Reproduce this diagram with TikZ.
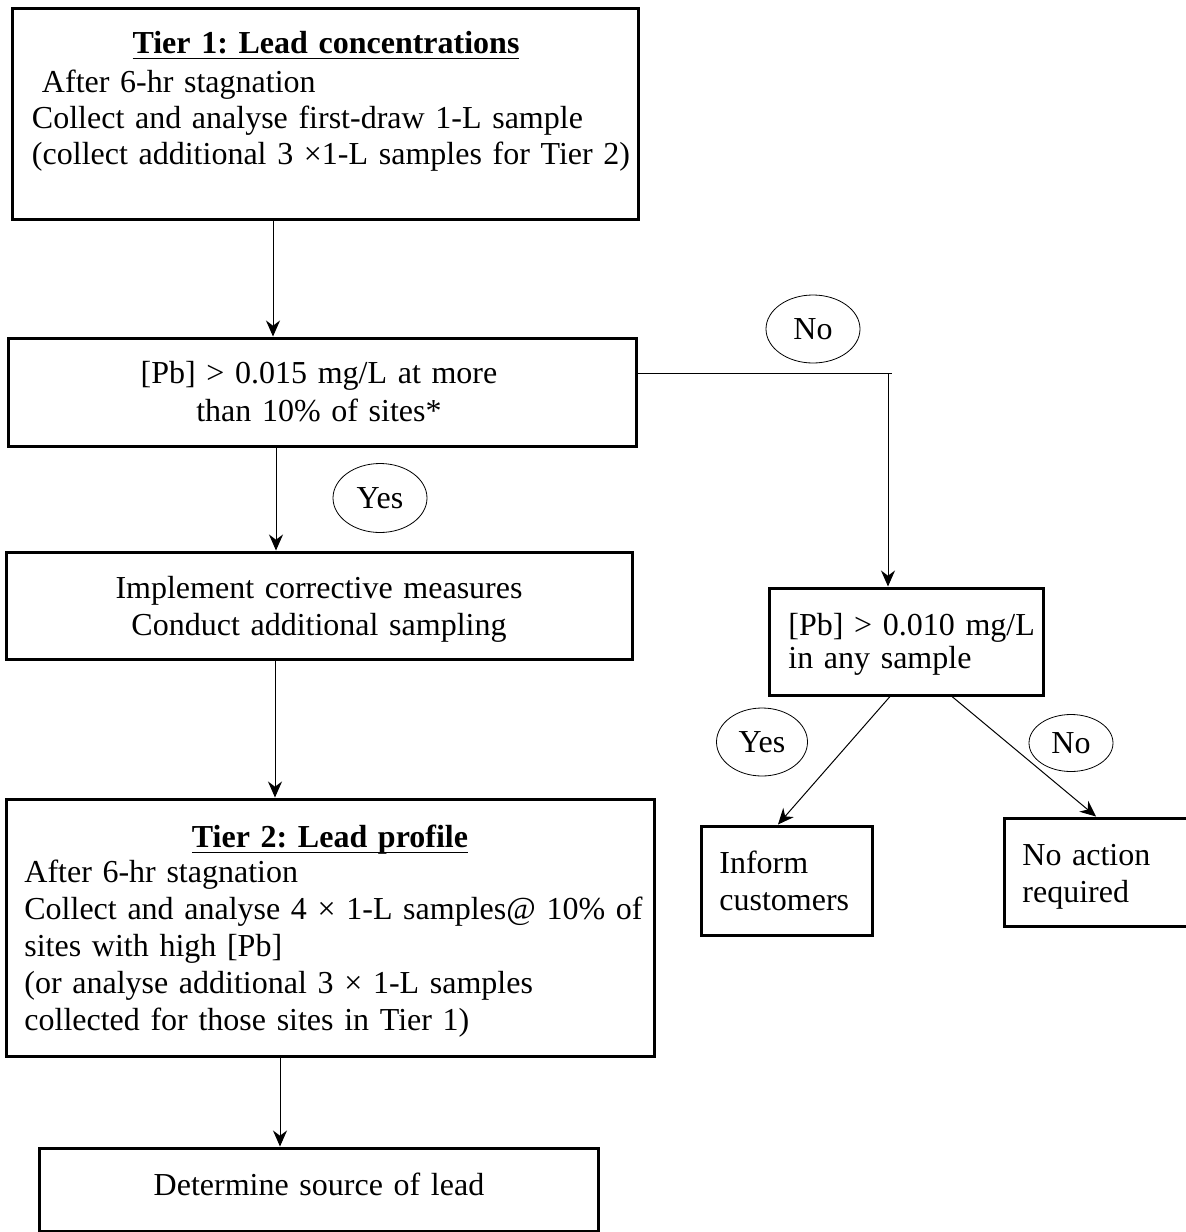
\documentclass[tikz,border=0pt]{standalone}
\usepackage{fontspec}
\setmainfont{Liberation Serif}
\usetikzlibrary{arrows.meta,shapes.geometric}
\newcommand{\ultitle}[1]{\setbox0\hbox{#1}\rlap{\rule[-3.2pt]{\wd0}{0.9pt}}\box0}
\frenchspacing
\begin{document}
\begin{tikzpicture}[>={Stealth[length=8pt,width=7pt]},x=0.5pt,y=-0.5pt,
			every node/.style={font=\fontsize{16}{18.5}\selectfont},
			box/.style={draw,line width=1.5pt,inner sep=0pt},
			answer/.style={ellipse,draw,line width=0.4pt,inner sep=0pt},
			txt/.style={inner sep=0pt,text width=#1},
			link/.style={line width=0.5pt}]
			\useasboundingbox (0,0) rectangle (1185,1232);
			\node[box,minimum width=313pt,minimum height=105.5pt] (tierone) at (325,113.5) {};
			\node[box,minimum width=314pt,minimum height=54pt] (leadcheck) at (322,392) {};
			\node[box,minimum width=313pt,minimum height=53.5pt] (corrective) at (319,605.5) {};
			\node[box,minimum width=324pt,minimum height=128.5pt] (tiertwo) at (330,927.5) {};
			\node[box,minimum width=279.5pt,minimum height=41.5pt] (source) at (318.5,1189.5) {};
			\node[box,minimum width=137pt,minimum height=53.5pt] (lowcheck) at (906,641.5) {};
			\node[box,minimum width=85.5pt,minimum height=54.5pt] (inform) at (786.5,880.5) {};
			\node[box,minimum width=92pt,minimum height=54pt] (noaction) at (1096,872) {};
			\node[txt=300pt,align=center,anchor=base] (tieronetitle) at (326,53)
			{\bfseries\ultitle{Tier 1: Lead concentrations}};
			\node[txt=300pt,align=left,anchor=base west,font=\fontsize{16}{18}\selectfont]
			(tieronetext) at (31.6,92) {\hspace*{5pt}After 6-hr stagnation\\
			Collect and analyse first-draw 1-L sample\\
			(collect additional 3 ×1-L samples for Tier 2)};
			\node[txt=300pt,align=center,anchor=base,font=\fontsize{16}{19}\selectfont]
			(leadchecktext) at (319,383) {[Pb] > 0.015 mg/L at more\\than 10\% of sites*};
			\node[txt=300pt,align=center,anchor=base] (correctivetext) at (319,598)
			{Implement corrective measures\\Conduct additional sampling};
			\node[txt=300pt,align=center,anchor=base] (tiertwotitle) at (330,847)
			{\bfseries\ultitle{Tier 2: Lead profile}};
			\node[txt=320pt,align=left,anchor=base west] (tiertwotext) at (24,882)
			{After 6-hr stagnation\\
			Collect and analyse 4 × 1-L samples@ 10\% of\\
			sites with high [Pb]\\
			(or analyse additional 3 × 1-L samples\\
			collected for those sites in Tier 1)};
			\node[txt=270pt,align=center,anchor=base] (sourcetext) at (319,1195)
			{Determine source of lead};
			\node[txt=130pt,align=left,anchor=base west,font=\fontsize{16}{16.5}\selectfont]
			(lowchecktext) at (788,635) {[Pb] > 0.010 mg/L\\in any sample};
			\node[txt=80pt,align=left,anchor=base west] (informtext) at (719,873)
			{Inform\\customers};
			\node[txt=80pt,align=left,anchor=base west] (noactiontext) at (1022,865)
			{No action\\required};
			\node[answer,minimum width=47pt,minimum height=34pt] (nofirst) at (813,329) {No};
			\node[answer,minimum width=47pt,minimum height=34.5pt] (yesfirst) at (380,498) {Yes};
			\node[answer,minimum width=45.5pt,minimum height=34pt] (yessecond) at (762,742) {Yes};
			\node[answer,minimum width=42pt,minimum height=28.5pt] (nosecond) at (1071,743) {No};
			\coordinate (turn) at (888,373);
			\draw[link,->] ([xshift=-26pt]tierone.south) --
			([xshift=-26pt]tierone.south |- leadcheck.north);
			\draw[link,->] ([xshift=-23pt]leadcheck.south) --
			([xshift=-23pt]leadcheck.south |- corrective.north);
			\draw[link,->] ([xshift=-22pt]corrective.south) --
			([xshift=-22pt]corrective.south |- tiertwo.north);
			\draw[link,->] ([xshift=-25pt]tiertwo.south) --
			([xshift=-25pt]tiertwo.south |- source.north);
			\draw[link] (leadcheck.east |- turn) -- ([xshift=2pt]turn);
			\draw[link,->] (turn) -- (turn |- lowcheck.north);
			\draw[link,->] ([xshift=-8pt]lowcheck.south) -- ([xshift=-4.25pt]inform.north);
			\draw[link,->] ([xshift=23pt]lowcheck.south) -- (noaction.north);
		\end{tikzpicture}
\end{document}
